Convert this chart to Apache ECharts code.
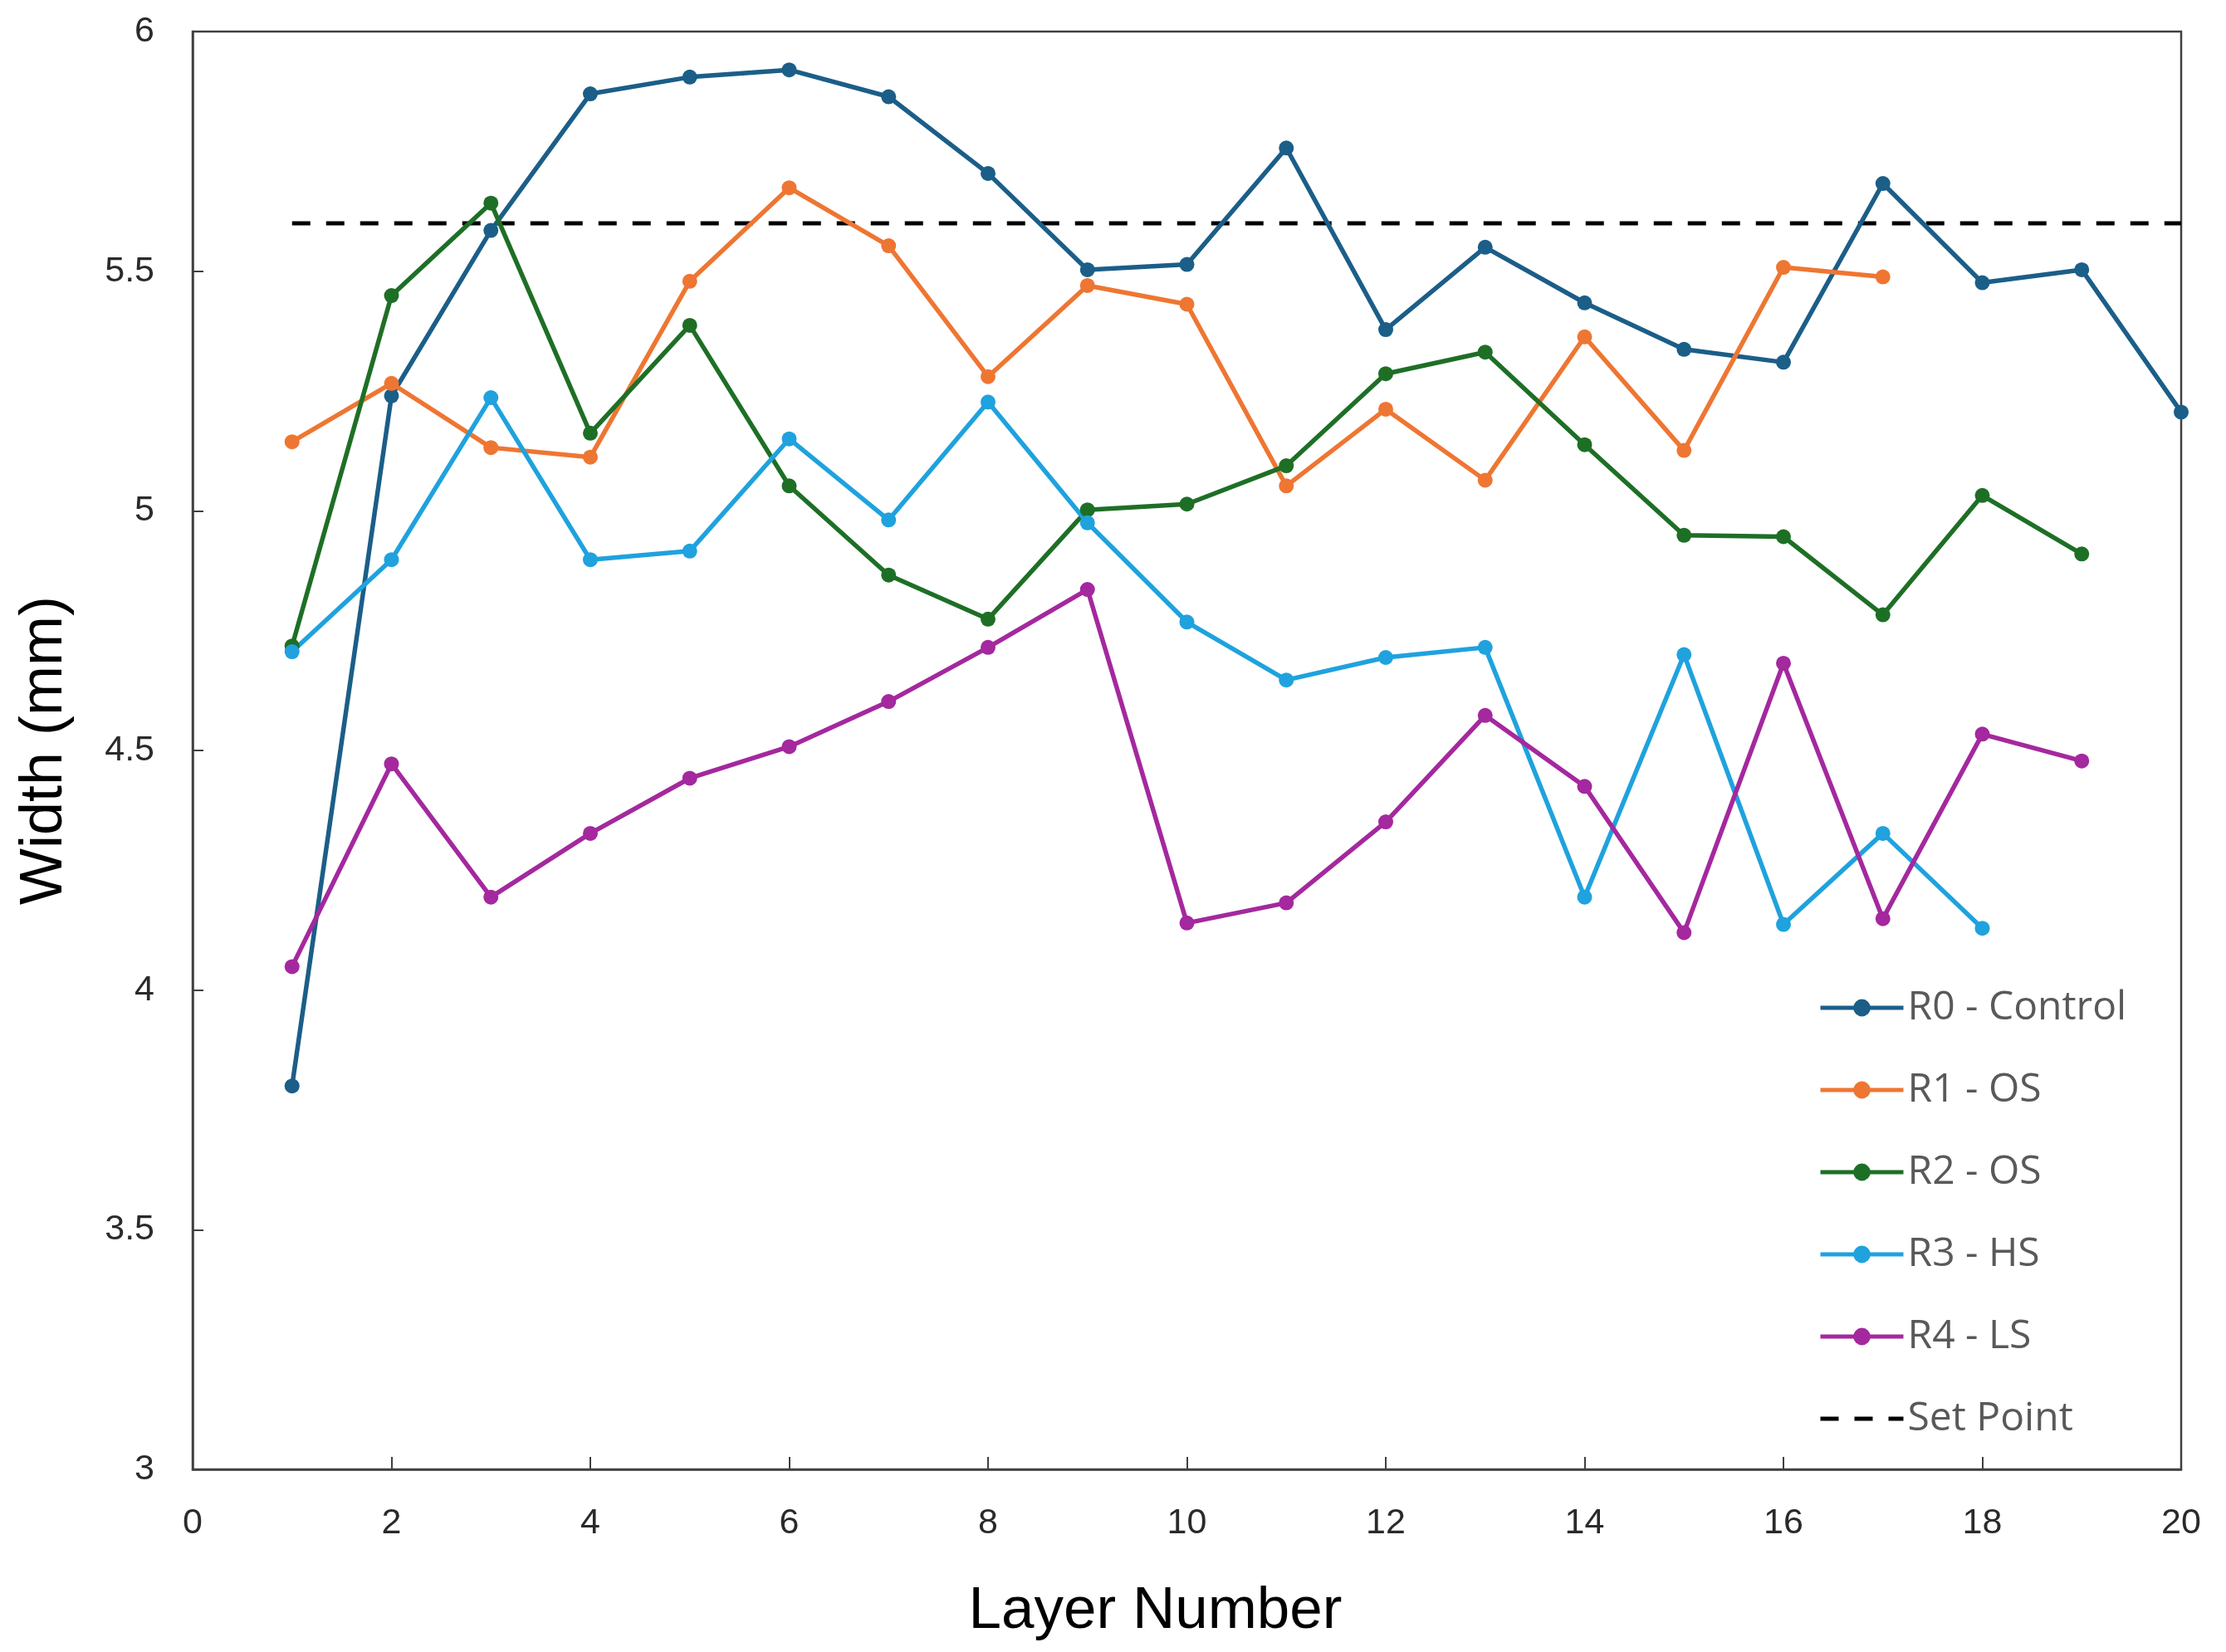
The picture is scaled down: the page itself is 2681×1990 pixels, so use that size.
<!DOCTYPE html>
<html>
<head>
<meta charset="utf-8">
<script src="https://cdn.jsdelivr.net/npm/echarts@6/dist/echarts.min.js"></script>
<style>
html,body{margin:0;padding:0;background:#fff;}
#c{width:2681px;height:1990px;}
</style>
</head>
<body>
<div id="c"></div>
<script>
const layers = [1,2,3,4,5,6,7,8,9,10,11,12,13,14,15,16,17,18,19,20];
const r0Control = [3.80,5.24,5.585,5.87,5.905,5.92,5.864,5.704,5.503,5.514,5.757,5.378,5.55,5.434,5.337,5.31,5.683,5.476,5.503,5.206];
const r1OS = [5.144,5.266,5.132,5.112,5.479,5.674,5.553,5.28,5.47,5.431,5.052,5.212,5.064,5.363,5.126,5.508,5.488];
const r2OS = [4.718,5.449,5.642,5.162,5.387,5.052,4.866,4.774,5.002,5.014,5.094,5.286,5.331,5.138,4.949,4.946,4.783,5.032,4.910];
const r3HS = [4.706,4.898,5.236,4.898,4.916,5.15,4.981,5.227,4.975,4.768,4.647,4.694,4.715,4.194,4.70,4.137,4.327,4.129];
const r4LS = [4.049,4.472,4.194,4.327,4.442,4.508,4.602,4.715,4.836,4.140,4.182,4.351,4.573,4.425,4.12,4.682,4.149,4.534,4.478];
const setPointX = [1,20];
const setPointY = [5.6,5.6];
const seriesNames = ['R0 - Control','R1 - OS','R2 - OS','R3 - HS','R4 - LS','Set Point'];
const colors = ['#1B5E88','#EE7632','#1E6F26','#1FA2DE','#A4289E','#000000'];
const xTicks = {min:0,max:20,interval:2};
const yTicks = {min:3,max:6,interval:0.5};

function pairs(xs, ys){ return ys.map((v,i)=>[xs[i], v]); }

const dataSets = [r0Control, r1OS, r2OS, r3HS, r4LS];
const series = dataSets.map((d,i)=>({
  name: seriesNames[i],
  type: 'line',
  data: pairs(layers, d),
  symbol: 'circle',
  symbolSize: 18,
  showSymbol: true,
  lineStyle: {width: 5.5, color: colors[i]},
  itemStyle: {color: colors[i]},
  z: 3
}));
series.push({
  name: seriesNames[5],
  type: 'line',
  data: pairs(setPointX, setPointY),
  symbol: 'none',
  lineStyle: {width: 5, color: '#000', type: [22,19]},
  itemStyle: {color: '#000'},
  z: 2
});

const legendData = seriesNames.map((n,i)=> i===5 ? {name:n, itemStyle:{opacity:0}} : {name:n});

const chart = echarts.init(document.getElementById('c'), null, {renderer:'canvas'});
chart.setOption({
  animation: false,
  backgroundColor: '#fff',
  grid: {left: 232, right: 54, top: 38, bottom: 220, show: true, borderColor: '#404040', borderWidth: 2.5, backgroundColor: 'transparent'},
  xAxis: {
    type: 'value', min: xTicks.min, max: xTicks.max, interval: xTicks.interval,
    name: 'Layer Number', nameLocation: 'middle', nameGap: 136,
    nameTextStyle: {fontFamily: 'Liberation Sans', fontSize: 71, color: '#000', padding: [0,76,0,0]},
    axisLine: {show: true, lineStyle: {color: '#404040', width: 2.5}},
    axisTick: {show: true, inside: true, length: 15, lineStyle: {color: '#404040', width: 2}},
    axisLabel: {fontFamily: 'Liberation Sans', fontSize: 43, color: '#2a2a2a', margin: 44},
    splitLine: {show: false}
  },
  yAxis: {
    type: 'value', min: yTicks.min, max: yTicks.max, interval: yTicks.interval,
    name: 'Width (mm)', nameLocation: 'middle', nameGap: 142,
    nameTextStyle: {fontFamily: 'Liberation Sans', fontSize: 72, color: '#000'},
    axisLine: {show: true, lineStyle: {color: '#404040', width: 2.5}},
    axisTick: {show: true, inside: true, length: 13, lineStyle: {color: '#404040', width: 2}},
    axisLabel: {fontFamily: 'Liberation Sans', fontSize: 43, color: '#2a2a2a', margin: 46},
    splitLine: {show: false}
  },
  legend: {
    orient: 'vertical', left: 2185, top: 1185,
    itemWidth: 100, itemHeight: 26, itemGap: 51,
    data: legendData,
    lineStyle: {width: 5},
    textStyle: {fontFamily: 'Open Sans', fontSize: 48, color: '#595959', lineHeight: 48, padding: [0,0,0,0]}
  },
  series: series
});
</script>
</body>
</html>
